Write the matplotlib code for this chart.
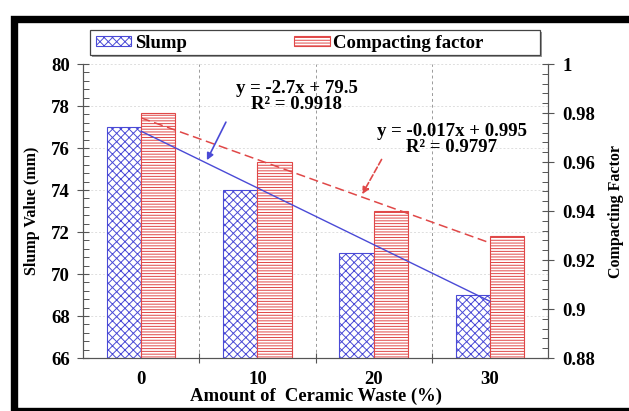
import matplotlib
matplotlib.use("Agg")
import matplotlib.pyplot as plt
import numpy as np
from matplotlib.patches import Patch, Rectangle
from matplotlib.ticker import FixedLocator, MultipleLocator, FixedFormatter

plt.rcParams["font.family"] = ["Liberation Serif", "DejaVu Serif"]
plt.rcParams["font.weight"] = "bold"
plt.rcParams["hatch.linewidth"] = 0.7

# data
ceramic_waste = ["0", "10", "20", "30"]
slump_mm = [77, 74, 71, 69]
compacting_factor = [0.98, 0.96, 0.94, 0.93]

BLUE = "#4a4ad6"
RED = "#e04848"
GRID = "#9a9a9a"
SPINE = "#555555"

x = np.arange(len(ceramic_waste))
x_trend = x + 1  # Excel trendlines use 1..n
slump_fit = np.polyfit(x_trend, slump_mm, 1)
cf_fit = np.polyfit(x_trend, compacting_factor, 1)

fig = plt.figure(figsize=(6.29, 4.11), dpi=100)
ax = fig.add_axes([83 / 629, 53 / 411, 465 / 629, 294 / 411])
ax2 = ax.twinx()

width = 0.295
ax.bar(x - width / 2, slump_mm, width, color="white", edgecolor=BLUE,
       hatch="xxxx", linewidth=0.8, zorder=2)
ax2.bar(x + width / 2, compacting_factor, width, color="white", edgecolor=RED,
        hatch="------", linewidth=0.8, zorder=2)

ax.set_xlim(-0.5, 3.5)
ax.set_ylim(66, 80)
ax2.set_ylim(0.88, 1.0)

# trendlines (blue one drawn in left-axis units on the top axes)
ax2.plot(x, np.polyval(slump_fit, x_trend), color=BLUE, lw=1.0,
         transform=ax.transData, zorder=4)
ax2.plot(x, np.polyval(cf_fit, x_trend), color=RED, lw=1.1,
         linestyle=(0, (6, 3)), zorder=4)

# equations
ax2.text(1.34, 78.45, "y = -2.7x + 79.5\nR² = 0.9918", transform=ax.transData,
         ha="center", va="center", fontsize=13.5, fontweight="bold",
         linespacing=0.95, zorder=5)
ax2.text(2.67, 76.4, "y = -0.017x + 0.995\nR² = 0.9797", transform=ax.transData,
         ha="center", va="center", fontsize=13.5, fontweight="bold",
         linespacing=0.95, zorder=5)

ax2.annotate("", xy=(0.555, np.polyval(slump_fit, 1.555)), xycoords=ax.transData,
             xytext=(0.74, 77.35), textcoords=ax.transData,
             arrowprops=dict(arrowstyle="-|>", color=BLUE, lw=1.2,
                             mutation_scale=10), zorder=5)
ax2.annotate("", xy=(1.89, np.polyval(cf_fit, 2.89)),
             xytext=(2.08, 75.57), textcoords=ax.transData,
             arrowprops=dict(arrowstyle="-|>", color=RED, lw=1.2, linestyle="--",
                             mutation_scale=10), zorder=5)

# x axis: category labels in the middle, ticks and dashed grid between groups
ax.xaxis.set_major_locator(FixedLocator([0.5, 1.5, 2.5]))
ax.xaxis.set_major_formatter(FixedFormatter(["", "", ""]))
ax.xaxis.set_minor_locator(FixedLocator(x))
ax.xaxis.set_minor_formatter(FixedFormatter(ceramic_waste))
ax.tick_params(axis="x", which="major", direction="inout", length=7,
               color=SPINE, width=0.8)
ax.tick_params(axis="x", which="minor", length=0, labelsize=13.5, pad=9)
ax.grid(axis="x", which="major", color=GRID, linestyle=(0, (3, 3)), lw=0.7)
ax.grid(axis="y", which="major", color="#dedede", linestyle=(0, (2, 2)), lw=0.7)
ax.set_axisbelow(True)

ax.yaxis.set_major_locator(MultipleLocator(2))
ax.yaxis.set_minor_locator(MultipleLocator(0.4))
ax.tick_params(axis="y", which="major", direction="inout", length=9,
               color=SPINE, width=0.8, labelsize=13.5, pad=5)
ax.tick_params(axis="y", which="minor", direction="in", length=4,
               color=SPINE, width=0.7)

ticks_cf = [0.88, 0.9, 0.92, 0.94, 0.96, 0.98, 1.0]
ax2.yaxis.set_major_locator(FixedLocator(ticks_cf))
ax2.yaxis.set_major_formatter(FixedFormatter([f"{t:g}" for t in ticks_cf]))
ax2.yaxis.set_minor_locator(MultipleLocator(0.004))
ax2.tick_params(axis="y", which="major", direction="inout", length=9,
                color=SPINE, width=0.8, labelsize=13.5, pad=6)
ax2.tick_params(axis="y", which="minor", direction="in", length=4,
                color=SPINE, width=0.7)

for a in (ax, ax2):
    a.spines["top"].set_visible(False)
    for s in ("left", "right", "bottom"):
        a.spines[s].set_color(SPINE)
        a.spines[s].set_linewidth(0.8)

ax.set_xlabel("Amount of  Ceramic Waste (%)", fontsize=13.4, fontweight="bold",
              labelpad=0)
ax.set_ylabel("Slump Value (mm)", fontsize=11.5, fontweight="bold", labelpad=8)
ax2.set_ylabel("Compacting Factor", fontsize=11.5, fontweight="bold", labelpad=9)

# legend box with shadow across the top
box_l, box_b, box_w, box_h = 90 / 629, 1 - 55 / 411, 450 / 629, 25 / 411
shadow = Rectangle((box_l + 2 / 629, box_b - 2 / 411), box_w, box_h,
                   transform=fig.transFigure, facecolor="#9a9a9a",
                   edgecolor="none", zorder=1)
frame = Rectangle((box_l, box_b), box_w, box_h, transform=fig.transFigure,
                  facecolor="white", edgecolor="#444444", lw=0.9, zorder=2)
fig.add_artist(shadow)
fig.add_artist(frame)
handles = [Patch(facecolor="white", edgecolor=BLUE, hatch="xxxx", lw=0.8),
           Patch(facecolor="white", edgecolor=RED, hatch="------", lw=0.8)]
leg = fig.legend(handles, ["Slump", "Compacting factor"], ncol=2,
                 loc="center left", bbox_to_anchor=(92 / 629, 1 - 43 / 411),
                 frameon=False, fontsize=13.5, handlelength=1.9,
                 handleheight=0.45, handletextpad=0.2, columnspacing=5.7,
                 borderaxespad=0, borderpad=0.2)
leg.set_zorder(3)

# black frame around the picture (cut off at the right edge)
fig.add_artist(Rectangle((13.5 / 629, 0), (660 - 13.5) / 629, (411 - 19) / 411,
                         transform=fig.transFigure, fill=False,
                         edgecolor="black", lw=5.3, zorder=10))

fig.savefig("out.png", dpi=100)
